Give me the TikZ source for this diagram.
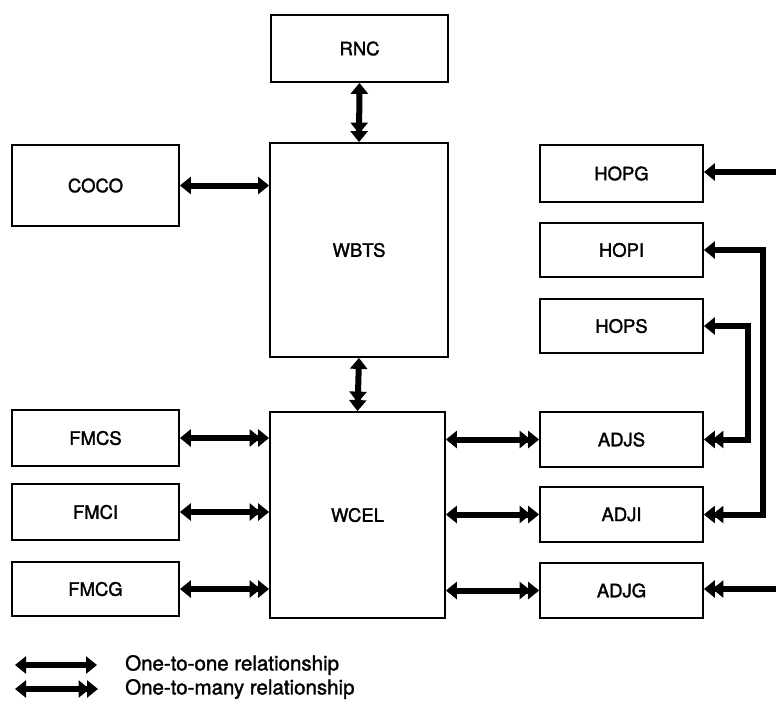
\documentclass[tikz,border=0pt]{standalone}
\usepackage{fontspec}
\setmainfont{TeX Gyre Heros}[FakeBold=1.6]
\usetikzlibrary{arrows.meta}
\begin{document}
\begin{tikzpicture}[x=1pt,y=-1pt,
  box/.style={draw,line width=1.8pt,minimum width=#1,inner sep=0pt,
    font=\fontsize{18.5}{21}\selectfont},
  link/.style={line width=6pt,line join=miter},
  one/.tip={Triangle[length=11pt,width=17pt]},
  many/.tip={Triangle[length=11pt,width=17pt,sep=-2.5pt]Triangle[length=11pt,width=17pt]},
  oneone/.style={link,{one}-{one}},
  onemany/.style={link,{one}-{many}},
  legend/.style={anchor=west,inner sep=0pt,font=\fontsize{20.5}{23}\selectfont}]
\useasboundingbox (0,0) rectangle (776,713);

% left column
\node[box=167pt,minimum height=81pt] (COCO) at (95.5,185.5) {COCO};
\node[box=167pt,minimum height=56pt] (FMCS) at (95.5,438) {FMCS};
\node[box=167pt,minimum height=56pt] (FMCI) at (95.5,512) {FMCI};
\node[box=167pt,minimum height=54pt] (FMCG) at (95.5,589) {FMCG};

% centre column
\node[box=177pt,minimum height=67pt] (RNC) at (359.5,48.5) {RNC};
\node[box=178pt,minimum height=214pt] (WBTS) at (359,250) {WBTS};
\node[box=175pt,minimum height=206pt] (WCEL) at (357.5,515) {WCEL};

% right column
\node[box=163pt,minimum height=57pt] (HOPG) at (621.5,173.5) {HOPG};
\node[box=163pt,minimum height=54pt] (HOPI) at (621.5,250) {HOPI};
\node[box=163pt,minimum height=54pt] (HOPS) at (621.5,326) {HOPS};
\node[box=163pt,minimum height=55pt] (ADJS) at (621.5,439.5) {ADJS};
\node[box=163pt,minimum height=55pt] (ADJI) at (621.5,514.5) {ADJI};
\node[box=163pt,minimum height=55pt] (ADJG) at (621.5,590.5) {ADJG};

% free ends and bends
\coordinate (gIn) at (778,172);
\coordinate (gOut) at (778,589);
\coordinate (sBend) at (748,0);
\coordinate (iBend) at (763,0);

% vertical links
\draw[onemany] (RNC.south) -- (WBTS.north);
\draw[onemany] (WBTS.south) -- (WCEL.north);

% left links
\draw[oneone] (COCO.east) -- (COCO.east -| WBTS.west);
\draw[onemany] (FMCS.east) -- (FMCS.east -| WCEL.west);
\draw[onemany] (FMCI.east) -- (FMCI.east -| WCEL.west);
\draw[onemany] (FMCG.east) -- (FMCG.east -| WCEL.west);

% right links
\draw[onemany] (ADJS.west -| WCEL.east) -- (ADJS.west);
\draw[onemany] (ADJI.west -| WCEL.east) -- (ADJI.west);
\draw[onemany] (ADJG.west -| WCEL.east) -- (ADJG.west);

\draw[link,-{one}] (gIn) -- (gIn -| HOPG.east);
\draw[link,-{many}] (gOut) -- (gOut -| ADJG.east);
\draw[link,{one}-{many}] (HOPS.east) -- (HOPS.east -| sBend) -- (sBend |- ADJS.east) -- (ADJS.east);
\draw[link,{one}-{many}] (HOPI.east) -- (HOPI.east -| iBend) -- (iBend |- ADJI.east) -- (ADJI.east);

% legend
\coordinate (l1a) at (15,665);
\coordinate (l1b) at (97,665);
\coordinate (l2a) at (15,689);
\coordinate (l2b) at (98,689);
\draw[oneone] (l1a) -- (l1b);
\draw[onemany] (l2a) -- (l2b);
\node[legend] (t1) at (125,665) {One-to-one relationship};
\node[legend] (t2) at (125,689) {One-to-many relationship};
\end{tikzpicture}
\end{document}
